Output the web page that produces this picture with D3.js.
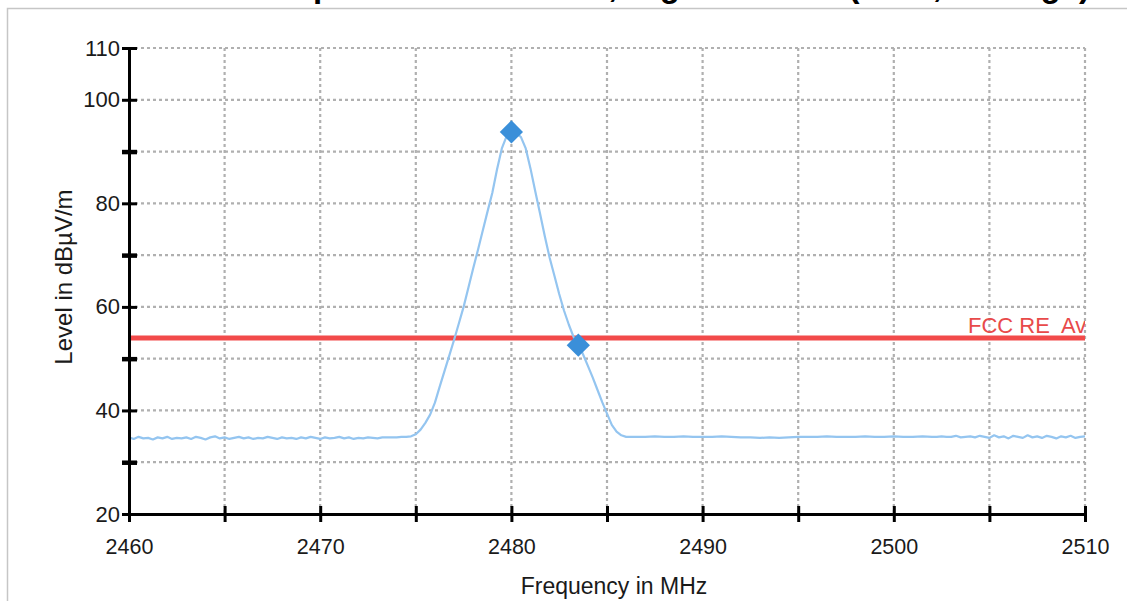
<!DOCTYPE html>
<html><head><meta charset="utf-8">
<script src="https://cdn.jsdelivr.net/npm/d3@7"></script>
<style>
body{margin:0;background:#fff;}
text{font-family:"Liberation Sans",Arial,sans-serif;}
</style>
</head><body>
<svg id="chart" width="1127" height="601"></svg>
<script>
// ---- data ----
const titleText = "Spurious Emissions, High Channel (2480, Average)";
const xTitle = "Frequency in MHz";
const yTitle = "Level in dB\u00B5V/m";

const xTicks = [2460, 2465, 2470, 2475, 2480, 2485, 2490, 2495, 2500, 2505, 2510];
const xTickLabels = [2460, 2470, 2480, 2490, 2500, 2510];
const yTicks = [20, 30, 40, 50, 60, 70, 80, 90, 100, 110];
const yTickLabels = [20, 40, 60, 80, 100, 110];

const freqMHz = [
  2460, 2460.25, 2460.5, 2460.75, 2461, 2461.25, 2461.5, 2461.75, 2462, 2462.25,
  2462.5, 2462.75, 2463, 2463.25, 2463.5, 2463.75, 2464, 2464.25, 2464.5, 2464.75,
  2465, 2465.25, 2465.5, 2465.75, 2466, 2466.25, 2466.5, 2466.75, 2467, 2467.25,
  2467.5, 2467.75, 2468, 2468.25, 2468.5, 2468.75, 2469, 2469.25, 2469.5, 2469.75,
  2470, 2470.25, 2470.5, 2470.75, 2471, 2471.25, 2471.5, 2471.75, 2472, 2472.25,
  2472.5, 2472.75, 2473, 2473.25, 2473.5, 2473.75, 2474, 2474.25, 2474.5, 2474.75,
  2475, 2475.25, 2475.5, 2475.75, 2476, 2476.25, 2476.5, 2476.75, 2477, 2477.25,
  2477.5, 2477.75, 2478, 2478.25, 2478.5, 2478.75, 2479, 2479.25, 2479.5, 2479.75,
  2480, 2480.25, 2480.5, 2480.75, 2481, 2481.25, 2481.5, 2481.75, 2482, 2482.25,
  2482.5, 2482.75, 2483, 2483.25, 2483.5, 2483.75, 2484, 2484.25, 2484.5, 2484.75,
  2485, 2485.25, 2485.5, 2485.75, 2486,
  2486.5, 2487, 2487.5, 2488, 2488.5, 2489, 2489.5, 2490, 2490.5, 2491,
  2491.5, 2492, 2492.5, 2493, 2493.5, 2494, 2494.5, 2495, 2495.5, 2496,
  2496.5, 2497, 2497.5, 2498, 2498.5, 2499, 2499.5, 2500, 2500.5, 2501,
  2501.5, 2502,
  2502.25, 2502.5, 2502.75, 2503, 2503.25, 2503.5, 2503.75, 2504, 2504.25, 2504.5,
  2504.75, 2505, 2505.25, 2505.5, 2505.75, 2506, 2506.25, 2506.5, 2506.75, 2507,
  2507.25, 2507.5, 2507.75, 2508, 2508.25, 2508.5, 2508.75, 2509, 2509.25, 2509.5,
  2509.75, 2510
];
const levelDbuV = [
  34.8, 34.5, 34.9, 34.6, 34.7, 34.4, 34.8, 34.6, 34.9, 34.5,
  34.7, 34.6, 34.8, 34.5, 34.9, 34.7, 34.4, 34.8, 35.0, 34.6,
  34.8, 34.5, 34.7, 34.9, 34.6, 34.8, 34.5, 34.7, 34.6, 34.9,
  34.7, 34.5, 34.8, 34.6, 34.7, 34.5, 34.8, 34.6, 34.9, 34.7,
  34.5, 34.8, 34.6, 34.7, 34.9, 34.6, 34.8, 34.5, 34.7, 34.6,
  34.8, 34.7, 34.6, 34.8, 34.8, 34.8, 34.8, 34.9, 34.9, 35.0,
  35.4, 36.3, 37.6, 39.2, 41.5, 44.6, 47.6, 50.6, 53.6, 56.8,
  60.0, 63.7, 67.4, 71.0, 74.7, 78.4, 82.0, 86.6, 90.6, 93.0,
  93.8, 93.6, 92.8, 90.6, 86.7, 82.3, 78.0, 73.6, 69.5, 66.0,
  62.5, 59.3, 56.6, 54.2, 52.8, 50.8, 48.6, 46.4, 44.0, 41.6,
  39.4, 37.2, 35.9, 35.2, 34.9,
  34.9, 34.9, 35.0, 34.9, 34.9, 35.0, 34.9, 34.9, 34.9, 35.0,
  34.9, 34.8, 34.8, 34.7, 34.8, 34.7, 34.8, 34.9, 34.9, 34.9,
  35.0, 34.9, 34.9, 34.9, 35.0, 34.9, 34.9, 35.0, 34.9, 34.9,
  35.0, 34.9,
  34.9, 35.0, 34.9, 34.9, 35.1, 34.8, 34.9, 35.0, 34.8, 35.1,
  34.9, 34.7, 35.2, 34.8, 35.0, 34.6, 35.1, 34.9, 34.7, 35.2,
  34.8, 35.0, 34.7, 35.1, 34.9, 34.6, 35.0, 34.8, 35.1, 34.7,
  34.9, 35.0
];

const limitName = "FCC RE  Average";
const limitFreq = [2460, 2510];
const limitLevel = [54, 54];

const markerFreq = [2480.0, 2483.5];
const markerLevel = [93.8, 52.6];

// ---- drawing ----
const svg = d3.select("#chart");
const W = 1127, H = 601;
const x = d3.scaleLinear().domain([2460, 2510]).range([129, 1085]);
const y = d3.scaleLinear().domain([20, 110]).range([514, 48]);

svg.append("rect").attr("width", W).attr("height", H).attr("fill", "#fff");

// title (mostly above the visible area, as in the reference)
svg.append("text").attr("x", 1090).attr("y", -3).attr("text-anchor", "end")
  .attr("font-size", 33).attr("font-weight", "bold").attr("fill", "#000").text(titleText);

// frame
svg.append("path").attr("d", `M7.5,${H} V8.5 H${W}`)
  .attr("fill", "none").attr("stroke", "#c6c6c6").attr("stroke-width", 1.5);

// clip
svg.append("defs").append("clipPath").attr("id", "plotclip")
  .append("rect").attr("x", x(2460)).attr("y", y(110) - 30)
  .attr("width", x(2510) - x(2460)).attr("height", y(20) - y(110) + 30);

// grid
const grid = svg.append("g");
grid.selectAll("line.h").data(yTicks.filter(d => d > 20)).join("line")
  .attr("x1", x(2460)).attr("x2", x(2510))
  .attr("y1", d => y(d)).attr("y2", d => y(d))
  .attr("stroke", "#b0b0b0").attr("stroke-width", 2.2).attr("stroke-dasharray", "3,3");
grid.selectAll("line.v").data(xTicks.filter(d => d > 2460)).join("line")
  .attr("y1", y(110)).attr("y2", y(20))
  .attr("x1", d => x(d)).attr("x2", d => x(d))
  .attr("stroke", "#b0b0b0").attr("stroke-width", 2.2).attr("stroke-dasharray", "3,3");

const plot = svg.append("g").attr("clip-path", "url(#plotclip)");

// limit line
const limitData = limitFreq.map((f, i) => [f, limitLevel[i]]);
plot.append("path").datum(limitData)
  .attr("d", d3.line().x(d => x(d[0])).y(d => y(d[1])))
  .attr("stroke", "#f24a4a").attr("stroke-width", 5).attr("fill", "none");
plot.append("text").attr("x", 968).attr("y", y(limitLevel[0]) - 5)
  .attr("font-size", 22).attr("fill", "#e84a4a").style("white-space", "pre").text(limitName);

// trace
const trace = freqMHz.map((f, i) => [f, levelDbuV[i]]);
plot.append("path").datum(trace)
  .attr("d", d3.line().x(d => x(d[0])).y(d => y(d[1])))
  .attr("stroke", "#94c5f0").attr("stroke-width", 2.2).attr("fill", "none")
  .attr("stroke-linejoin", "round");

// markers
const sym = d3.symbol().type(d3.symbolSquare).size(270);
svg.append("g").selectAll("path").data(markerFreq.map((f, i) => [f, markerLevel[i]])).join("path")
  .attr("d", sym)
  .attr("transform", d => `translate(${x(d[0])},${y(d[1])}) rotate(45)`)
  .attr("fill", "#3a8fd9");

// x axis
const xAxis = svg.append("g").attr("transform", `translate(0,${y(20)})`)
  .call(d3.axisBottom(x).tickValues(xTicks).tickSizeOuter(0).tickSize(8).tickPadding(12)
    .tickFormat(d => xTickLabels.includes(d) ? d : ""));
xAxis.select(".domain").attr("stroke", "#000").attr("stroke-width", 3);
xAxis.selectAll(".tick line").attr("y1", -8).attr("y2", 8).attr("stroke", "#000").attr("stroke-width", 3);
xAxis.selectAll(".tick text").attr("font-size", 21.5).attr("fill", "#1a1a1a").attr("y", 25);

// y axis
const yAxis = svg.append("g").attr("transform", `translate(${x(2460)},0)`)
  .call(d3.axisLeft(y).tickValues(yTicks).tickSizeOuter(0).tickSize(7).tickPadding(2)
    .tickFormat(d => yTickLabels.includes(d) ? d : ""));
yAxis.select(".domain").attr("stroke", "#000").attr("stroke-width", 3);
yAxis.selectAll(".tick line").attr("x1", -7).attr("x2", 8).attr("stroke", "#000")
  .attr("stroke-width", d => yTickLabels.includes(d) ? 3 : 4.5);
yAxis.selectAll(".tick text").attr("font-size", 22).attr("fill", "#1a1a1a").attr("x", -9);

// axis titles
svg.append("text").attr("x", 614).attr("y", 594).attr("text-anchor", "middle")
  .attr("font-size", 23).attr("fill", "#1a1a1a").text(xTitle);
svg.append("text").attr("transform", "translate(72,277) rotate(-90)").attr("text-anchor", "middle")
  .attr("font-size", 24).attr("fill", "#1a1a1a").text(yTitle);
</script>
</body></html>
